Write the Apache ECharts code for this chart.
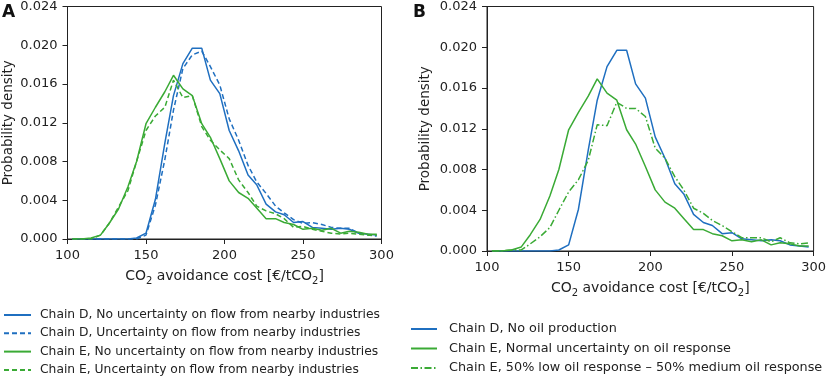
<!DOCTYPE html>
<html>
<head>
<meta charset="utf-8">
<script src="https://cdn.jsdelivr.net/npm/echarts@6/dist/echarts.min.js"></script>
<style>
  html, body { margin: 0; padding: 0; background: #fff; }
  #chart { width: 829px; height: 378px; }
</style>
</head>
<body>
<div id="chart"></div>
<script>
// CO2 avoidance cost bins (€/tCO2)
const costBins = [103, 109, 115, 121, 126.5, 132.5, 138.5, 144, 150, 156, 162, 167.5, 173.5, 179.5, 185.5, 191, 197,
    203, 209, 215, 220.5, 226.5, 232.5, 238, 244, 250, 256, 262, 268, 274, 279.5, 285.5, 291.5, 297];

// probability densities
const chainDNoUnc = [0, 0, 0, 0, 0, 0, 0, 0.0001, 0.0006, 0.0041, 0.0099, 0.0148, 0.0181, 0.0197, 0.0197, 0.0164, 0.0150,
    0.0112, 0.0091, 0.0066, 0.0056, 0.0036, 0.0028, 0.0025, 0.0017, 0.0018, 0.0012, 0.0011, 0.0010, 0.0011, 0.0010, 0.0006, 0.0005, 0.0004];
const chainDUnc = [0, 0, 0, 0, 0, 0, 0, 0, 0.0004, 0.0035, 0.0082, 0.0133, 0.0176, 0.0190, 0.0194, 0.0178, 0.0159,
    0.0124, 0.0102, 0.0076, 0.0059, 0.0047, 0.0034, 0.0027, 0.0020, 0.0016, 0.0017, 0.0015, 0.0012, 0.0011, 0.0011, 0.0006, 0.0004, 0.0003];
const chainENoUnc = [0, 0, 0.0001, 0.0004, 0.0016, 0.0031, 0.0054, 0.0080, 0.0119, 0.0136, 0.0152, 0.0169, 0.0155, 0.0148, 0.0119, 0.0105, 0.0083,
    0.0060, 0.0048, 0.0042, 0.0032, 0.0021, 0.0021, 0.0017, 0.0015, 0.0010, 0.0011, 0.0009, 0.0011, 0.0006, 0.0008, 0.0007, 0.0005, 0.0005];
const chainEUnc = [0, 0, 0, 0.0004, 0.0016, 0.0033, 0.0050, 0.0080, 0.0112, 0.0127, 0.0136, 0.0164, 0.0146, 0.0148, 0.0116, 0.0102, 0.0092,
    0.0083, 0.0061, 0.0048, 0.0034, 0.0029, 0.0026, 0.0021, 0.0012, 0.0013, 0.0010, 0.0008, 0.0006, 0.0005, 0.0006, 0.0005, 0.0004, 0.0004];
const chainEMixed = [0, 0, 0.0001, 0.0001, 0.0007, 0.0014, 0.0023, 0.0040, 0.0058, 0.0070, 0.0089, 0.0124, 0.0123, 0.0146, 0.0140, 0.0140, 0.0132,
    0.0101, 0.0091, 0.0073, 0.0060, 0.0042, 0.0037, 0.0030, 0.0025, 0.0019, 0.0013, 0.0013, 0.0013, 0.0009, 0.0013, 0.0008, 0.0007, 0.0008];

const xTicks = [100, 150, 200, 250, 300];
const yTicks = [0, 0.004, 0.008, 0.012, 0.016, 0.020, 0.024];

const BLUE = '#1f6fc0';
const GREEN = '#3aaa35';
const FONT = 'DejaVu Sans';

const pairs = (ys) => costBins.map((x, i) => [x, ys[i]]);

const xAxisBase = (gridIndex) => ({
    type: 'value',
    gridIndex,
    min: xTicks[0],
    max: xTicks[xTicks.length - 1],
    interval: 50,
    name: '{n|CO}{s|2}{n| avoidance cost [€/tCO}{s|2}{n|]}',
    nameLocation: 'middle',
    nameGap: 27,
    nameTextStyle: {
        rich: {
            n: { fontFamily: FONT, fontSize: 14, color: '#222', lineHeight: 20 },
            s: { fontFamily: FONT, fontSize: 10, color: '#222', lineHeight: 12, verticalAlign: 'bottom' },
        },
    },
    axisLine: { onZero: false, lineStyle: { color: '#222', width: 1 } },
    axisTick: { inside: false, length: 5, lineStyle: { color: '#222' } },
    axisLabel: { fontFamily: FONT, fontSize: 13, color: '#222', margin: 10 },
    splitLine: { show: false },
});

const yAxisBase = (gridIndex, gap) => ({
    type: 'value',
    gridIndex,
    min: yTicks[0],
    max: yTicks[yTicks.length - 1],
    interval: 0.004,
    name: 'Probability density',
    nameLocation: 'middle',
    nameGap: gap,
    nameTextStyle: { fontFamily: FONT, fontSize: 13.5, color: '#222' },
    axisLine: { lineStyle: { color: '#222', width: 1 } },
    axisTick: { inside: false, length: 5, lineStyle: { color: '#222' } },
    axisLabel: {
        fontFamily: FONT, fontSize: 13, color: '#222', margin: 10,
        formatter: (v) => v.toFixed(3),
    },
    splitLine: { show: false },
});

const lineSeries = (name, ys, color, type, xi) => ({
    name,
    type: 'line',
    xAxisIndex: xi,
    yAxisIndex: xi,
    data: pairs(ys),
    showSymbol: false,
    symbol: 'none',
    smooth: false,
    color,
    lineStyle: { color, width: 1.5, type },
    emphasis: { disabled: true },
    z: 3,
});

const namesA = [
    'Chain D, No uncertainty on flow from nearby industries',
    'Chain D, Uncertainty on flow from nearby industries',
    'Chain E, No uncertainty on flow from nearby industries',
    'Chain E, Uncertainty on flow from nearby industries',
];
const namesB = [
    'Chain D, No oil production',
    'Chain E, Normal uncertainty on oil response',
    'Chain E, 50% low oil response \u2013 50% medium oil response',
];

const legendBase = {
    orient: 'vertical',
    padding: 0,
    itemWidth: 27,
    itemHeight: 14,
    itemGap: 4.3,
    itemStyle: { opacity: 0, borderWidth: 0 },
    textStyle: { fontFamily: FONT, fontSize: 12.3, color: '#222', lineHeight: 14, padding: [0, 0, 0, 4] },
    selectedMode: false,
};

const option = {
    animation: false,
    backgroundColor: '#fff',
    grid: [
        { left: 67.5, top: 6, width: 314, height: 233, show: true, borderColor: '#222', borderWidth: 1 },
        { left: 487, top: 6, width: 328, height: 245, show: true, borderColor: '#222', borderWidth: 1 },
    ],
    xAxis: [xAxisBase(0), xAxisBase(1)],
    yAxis: [yAxisBase(0, 52), yAxisBase(1, 55)],
    legend: [
        Object.assign({}, legendBase, { left: 3, top: 308, height: 70, data: namesA }),
        Object.assign({}, legendBase, {
            left: 410, top: 322, height: 56, itemWidth: 26, itemGap: 5.5, data: namesB,
            textStyle: { fontFamily: FONT, fontSize: 12.8, color: '#222', lineHeight: 14, padding: [0, 0, 0, 7] },
        }),
    ],
    graphic: [
        { type: 'text', left: 2, top: 4, style: { text: 'A', font: 'bold 17px "DejaVu Sans"', fill: '#111' } },
        { type: 'text', left: 413, top: 4, style: { text: 'B', font: 'bold 17px "DejaVu Sans"', fill: '#111' } },
    ],
    series: [
        lineSeries(namesA[0], chainDNoUnc, BLUE, 'solid', 0),
        lineSeries(namesA[1], chainDUnc, BLUE, [5, 3], 0),
        lineSeries(namesA[2], chainENoUnc, GREEN, 'solid', 0),
        lineSeries(namesA[3], chainEUnc, GREEN, [5, 3], 0),
        lineSeries(namesB[0], chainDNoUnc, BLUE, 'solid', 1),
        lineSeries(namesB[1], chainENoUnc, GREEN, 'solid', 1),
        lineSeries(namesB[2], chainEMixed, GREEN, [7, 2.5, 1.5, 2.5], 1),
    ],
};

const chart = echarts.init(document.getElementById('chart'), null, { renderer: 'canvas' });
chart.setOption(option);
</script>
</body>
</html>
